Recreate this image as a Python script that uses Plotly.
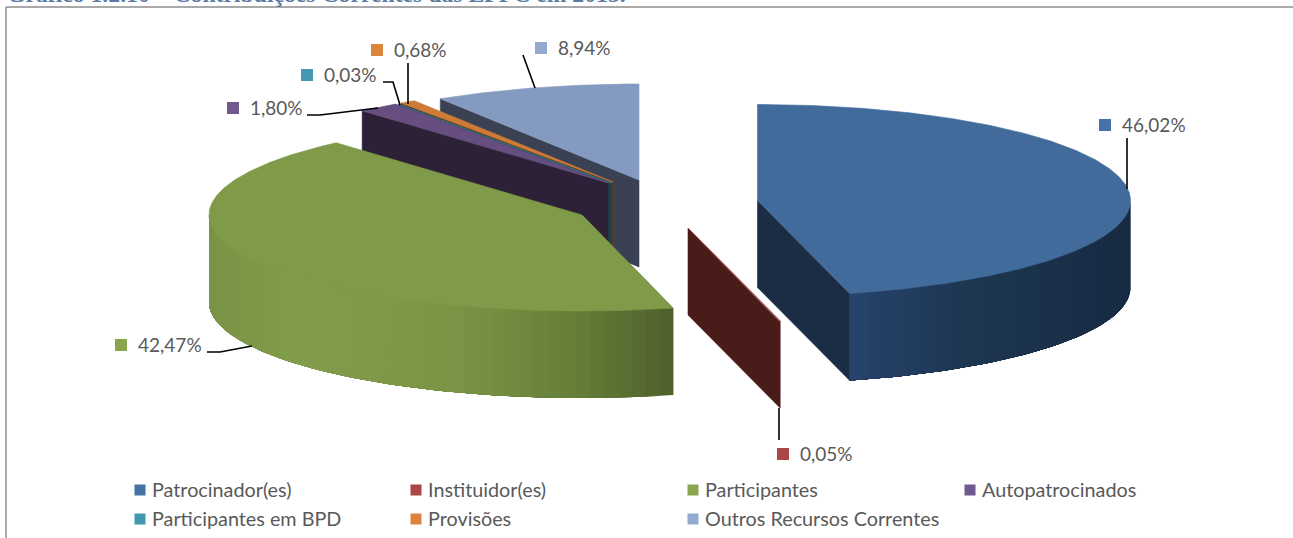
import math
import plotly.graph_objects as go

# ---- data ----
categories = ["Patrocinador(es)", "Instituidor(es)", "Participantes", "Autopatrocinados",
              "Participantes em BPD", "Provisões", "Outros Recursos Correntes"]
shares = [46.02, 0.05, 42.47, 1.80, 0.03, 0.68, 8.94]
value_labels = ["46,02%", "0,05%", "42,47%", "1,80%", "0,03%", "0,68%", "8,94%"]
title_text = "Gráfico 1.2.10 – Contribuições Correntes das EFPC em 2013."

# ---- styles ----
swatch = ["#4572a7", "#aa4643", "#89a54e", "#71588f", "#4198af", "#db843d", "#93a9cf"]
top_col = ["#416b9b", "#b0605c", "#7f9a48", "#664f80", "#3a8598", "#ce7b37", "#859ac0"]
cut_col = ["#1a2d45", "#491c1a", "#50612c", "#2c2136", "#18404a", "#5a3a20", "#3a4152"]
TEXT = "#595959"
FONT = "Lato"

# ---- projection of the tilted pie on the page (pixels) ----
A, B, DEPTH = 373, 96, 87
centres = [(757.5, 200.5), (688, 228), (582, 215), (608, 183), (611, 183), (613, 182), (639, 180)]
draw_order = [6, 5, 4, 3, 2, 1, 0]
wall_ramps = {
    0: [(851, "#26436c"), (960, "#1e3752"), (1130, "#172b42")],
    2: [(209, "#799245"), (300, "#819c4a"), (450, "#7b9546"), (570, "#66803a"), (673, "#4f5f2b")],
}

# angular extents derive from the shares
total = sum(shares)
starts, acc = [], 0.0
for s in shares:
    starts.append(acc / total * 2 * math.pi)
    acc += s
ends = [starts[i] + shares[i] / total * 2 * math.pi for i in range(len(shares))]


def rim(c, t, drop=0):
    return c[0] + A * math.sin(t), c[1] - B * math.cos(t) + drop


def arc(c, t0, t1, drop=0, step=0.01):
    n = max(2, int(abs(t1 - t0) / step))
    return [rim(c, t0 + (t1 - t0) * k / n, drop) for k in range(n + 1)]


def ramp(stops, x):
    if x <= stops[0][0]:
        return stops[0][1]
    for (x0, c0), (x1, c1) in zip(stops, stops[1:]):
        if x <= x1:
            f = (x - x0) / (x1 - x0)
            a = [int(c0[i:i + 2], 16) for i in (1, 3, 5)]
            b = [int(c1[i:i + 2], 16) for i in (1, 3, 5)]
            return "#%02x%02x%02x" % tuple(round(a[j] + (b[j] - a[j]) * f) for j in range(3))
    return stops[-1][1]


fig = go.Figure()


def poly(pts, color, lw=0.6):
    xs = [p[0] for p in pts] + [pts[0][0]]
    ys = [p[1] for p in pts] + [pts[0][1]]
    fig.add_trace(go.Scatter(x=xs, y=ys, mode="lines", fill="toself", fillcolor=color,
                             line=dict(color=color, width=lw), hoverinfo="skip", showlegend=False))


for i in draw_order:
    c, t0, t1 = centres[i], starts[i], ends[i]
    # flat cut face on the start side (upper-left slices) or end side (front slices)
    edge = t1 if i == 0 else t0
    e = rim(c, edge)
    poly([c, e, (e[0], e[1] + DEPTH), (c[0], c[1] + DEPTH)], cut_col[i])
    # curved outer wall: overlapping bands, each reaching to the far end, so no seams show
    if i in wall_ramps:
        a0, a1 = max(t0, math.pi / 2), min(t1, 1.5 * math.pi)
        n = 48
        for k in range(n):
            s0 = a0 + (a1 - a0) * k / n
            s1 = a0 + (a1 - a0) * (k + 1) / n
            seg = arc(c, s0, a1, step=0.02)
            low = arc(c, a1, s0, DEPTH, step=0.02)
            mid = rim(c, (s0 + s1) / 2)[0]
            poly(seg + low, ramp(wall_ramps[i], mid), 0)
    # top face
    poly([c] + arc(c, t0, t1), top_col[i])

# leader lines
leaders = [
    [(1127, 138), (1127, 189)],
    [(779, 408), (779, 440)],
    [(207, 352), (220, 352), (252, 346)],
    [(307, 115), (320, 115), (378, 108)],
    [(383, 82), (393, 82), (400, 105)],
    [(408, 63), (408, 104)],
    [(523, 55), (535, 88)],
]
for seg in leaders:
    fig.add_trace(go.Scatter(x=[p[0] for p in seg], y=[p[1] for p in seg], mode="lines",
                             line=dict(color="#000000", width=1.6), hoverinfo="skip", showlegend=False))

annotations = []


def text(x, y, s, size):
    annotations.append(dict(x=x, y=y, xref="x", yref="y", text=s, showarrow=False, xanchor="left",
                            yanchor="middle", font=dict(family=FONT, size=size, color=TEXT)))


# data labels
label_pos = [(1105, 125), (783, 454), (121, 345), (233, 108), (307, 75), (377, 50), (541, 48)]
for i, (x, y) in enumerate(label_pos):
    fig.add_trace(go.Scatter(x=[x], y=[y], mode="markers", hoverinfo="skip", showlegend=False,
                             marker=dict(symbol="square", size=12, color=swatch[i])))
    text(x + 15, y - 1, value_labels[i], 19)

# legend
legend_pos = [(140, 490), (416, 490), (693, 490), (970, 490), (140, 519), (416, 519), (693, 519)]
for i, (x, y) in enumerate(legend_pos):
    fig.add_trace(go.Scatter(x=[x], y=[y], mode="markers", hoverinfo="skip", showlegend=False,
                             marker=dict(symbol="square", size=11, color=swatch[i])))
    text(x + 9.5, y - 1, categories[i], 19.8)

# clipped heading above the frame
annotations.append(dict(x=5 / 1293, y=1, xref="paper", yref="paper", yanchor="bottom", xanchor="left",
                        yshift=-9, showarrow=False, text="<b>%s</b>" % title_text,
                        font=dict(family="Liberation Serif", size=23.7, color="#5b7ba3")))

shapes = [
    dict(type="line", xref="x", yref="y", x0=6, x1=1293, y0=7, y1=7, line=dict(color="#8c8c8c", width=1.5)),
    dict(type="line", xref="x", yref="y", x0=6, x1=6, y0=7, y1=538, line=dict(color="#8c8c8c", width=1.5)),
]

fig.update_layout(
    width=1293, height=538, margin=dict(l=0, r=0, t=0, b=0), autosize=False,
    paper_bgcolor="#ffffff", plot_bgcolor="#ffffff", showlegend=False,
    xaxis=dict(range=[0, 1293], visible=False, fixedrange=True),
    yaxis=dict(range=[538, 0], visible=False, fixedrange=True),
    annotations=annotations, shapes=shapes,
)
fig.write_html("out.html", config={"displayModeBar": False},
               post_script="document.body.style.margin='0';")
